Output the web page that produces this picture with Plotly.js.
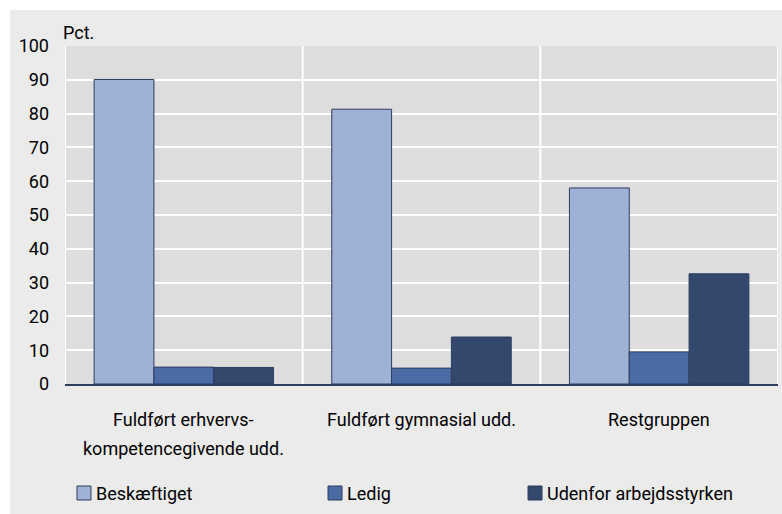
<!DOCTYPE html>
<html>
<head>
<meta charset="utf-8">
<script src="https://cdn.plot.ly/plotly-3.0.1.min.js"></script>
<style>
  html, body { margin: 0; padding: 0; background: #ffffff; }
  #chart { position: absolute; left: 10px; top: 10px; width: 772px; height: 504px; }
</style>
</head>
<body>
<div id="chart"></div>
<script>
const categories = ["Fuldført erhvervs-\nkompetencegivende udd.", "Fuldført gymnasial udd.", "Restgruppen"];
const seriesNames = ["Beskæftiget", "Ledig", "Udenfor arbejdsstyrken"];
const beskaeftiget = [90.1, 81.3, 58.0];
const ledig = [5.0, 4.7, 9.5];
const udenfor = [4.9, 13.9, 32.6];
const yTicks = [0, 10, 20, 30, 40, 50, 60, 70, 80, 90, 100];
const colors = ["#9fb1d5", "#4b6ba4", "#34476c"];

const FONT = "Roboto, 'Open Sans', Arial, sans-serif";
const FS = 18;
const xIdx = categories.map((c, i) => i);
const values = [beskaeftiget, ledig, udenfor];

const traces = values.map((v, k) => ({
  type: "bar",
  name: seriesNames[k],
  x: xIdx,
  y: v,
  marker: { color: colors[k], line: { color: "#2d3d60", width: 1 } },
  hoverinfo: "none"
}));

const annotations = [{
  text: "Pct.", xref: "paper", yref: "paper", x: 0, y: 1, xanchor: "left", yanchor: "bottom",
  xshift: -4, yshift: 1, showarrow: false, font: { family: FONT, size: FS, color: "#000" }
}];
categories.forEach((c, i) => {
  c.split("\n").forEach((line, j) => {
    annotations.push({
      text: line, xref: "x", yref: "paper", x: i, y: 0, yanchor: "middle", xanchor: "center",
      yshift: -35 - 29 * j, showarrow: false, font: { family: FONT, size: FS, color: "#000" }
    });
  });
});

const shapes = [];
for (let i = 0; i <= categories.length; i++) {
  shapes.push({ type: "line", xref: "x", yref: "paper", x0: i - 0.5, x1: i - 0.5, y0: 0, y1: 1,
    line: { color: "#ffffff", width: 2 }, layer: "below" });
}

// custom legend (square + label) built from seriesNames / colors
const legendX = [0.0168, 0.3689, 0.6494];
const legendY = -0.3225;
seriesNames.forEach((name, k) => {
  shapes.push({
    type: "rect", xref: "paper", yref: "paper", xsizemode: "pixel", ysizemode: "pixel",
    xanchor: legendX[k], yanchor: legendY, x0: 0, x1: 14, y0: -7, y1: 7,
    fillcolor: colors[k], line: { color: "#2d3d60", width: 1 }
  });
  annotations.push({
    text: name, xref: "paper", yref: "paper", x: legendX[k], y: legendY, xanchor: "left", yanchor: "middle",
    xshift: 17, showarrow: false, font: { family: FONT, size: FS, color: "#000" }
  });
});

const layout = {
  width: 772, height: 504,
  margin: { l: 55, r: 4, t: 36, b: 130 },
  paper_bgcolor: "#ebebeb",
  plot_bgcolor: "#dddddd",
  barmode: "group",
  bargap: 0.245,
  bargroupgap: 0,
  showlegend: false,
  font: { family: FONT, size: FS, color: "#000" },
  xaxis: {
    range: [-0.5, categories.length - 0.5],
    tickvals: xIdx, showticklabels: false, showgrid: false, zeroline: false,
    showline: true, linecolor: "#2d3d60", linewidth: 1.5, ticks: "", fixedrange: true
  },
  yaxis: {
    range: [0, 100], tickvals: yTicks, ticktext: yTicks.map(String),
    showgrid: true, gridcolor: "#ffffff", gridwidth: 2, zeroline: false,
    showline: false, ticks: "", ticklabelstandoff: 15,
    tickfont: { family: FONT, size: FS, color: "#000" }, fixedrange: true
  },
  annotations: annotations,
  shapes: shapes
};

Plotly.newPlot("chart", traces, layout, { displayModeBar: false, staticPlot: true });
</script>
</body>
</html>
